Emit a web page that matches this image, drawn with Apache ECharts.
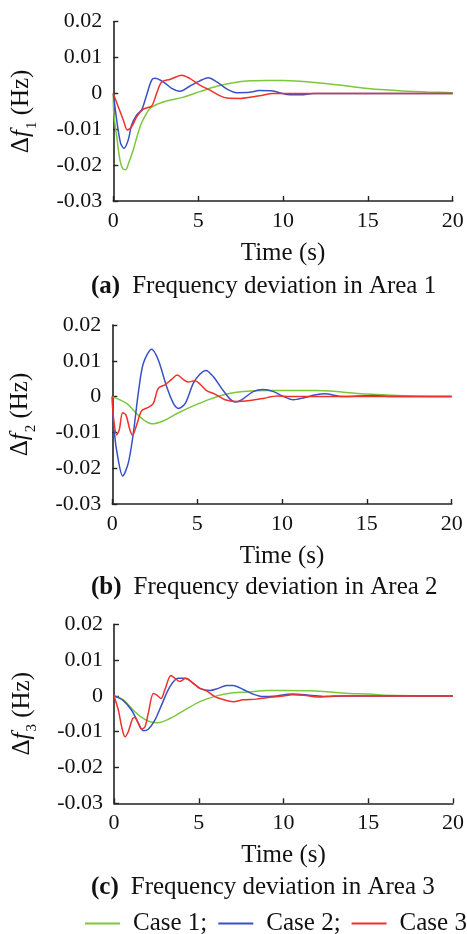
<!DOCTYPE html>
<html>
<head>
<meta charset="utf-8">
<script src="https://cdn.jsdelivr.net/npm/echarts@6/dist/echarts.min.js"></script>
<style>
html,body{margin:0;padding:0;background:#fff;}
#chart{width:467px;height:934px;}
</style>
</head>
<body>
<div id="chart"></div>
<script>
// ---- data: [time (s), deviation (Hz)] ----
var case1A = [[0,0],[0.03,-0.0055],[0.2,-0.012],[0.39,-0.0185],[0.55,-0.021],[0.72,-0.0213],[0.9,-0.0195],[1.18,-0.0157],[1.4,-0.012],[1.6,-0.009],[1.85,-0.0065],[2.16,-0.0042],[2.6,-0.003],[3.14,-0.0021],[4.1,-0.0011],[5.1,0.0005],[6.1,0.002],[7.07,0.003],[8.05,0.0035],[9,0.0036],[10,0.0036],[11,0.0034],[12,0.003],[13,0.0025],[13.9,0.002],[15,0.0014],[16,0.001],[17,0.0007],[18.5,0.0004],[20,0.0002]];
var case2A = [[0,0],[0.2,-0.0074],[0.43,-0.0139],[0.63,-0.0153],[0.88,-0.013],[1.08,-0.0088],[1.38,-0.006],[1.67,-0.0046],[1.96,-0.0005],[2.26,0.0037],[2.46,0.0042],[2.95,0.0032],[3.44,0.0014],[3.93,0.0006],[4.5,0.002],[5.1,0.0035],[5.6,0.0044],[6.1,0.0032],[6.7,0.0012],[7.27,0.0002],[8.05,0.0003],[8.6,0.0008],[9.4,0.0007],[9.8,0.0002],[10.4,-0.0004],[11.2,-0.0004],[11.8,0],[20,0]];
var case3A = [[0,0],[0.29,-0.0037],[0.59,-0.0074],[0.83,-0.0102],[1.08,-0.0093],[1.38,-0.0065],[1.77,-0.0044],[2.26,-0.0035],[2.55,0],[2.85,0.0032],[3.34,0.0039],[4.03,0.0051],[4.5,0.0042],[5.1,0.0023],[5.7,0.0009],[6.3,-0.0007],[6.7,-0.0013],[7.5,-0.0014],[8.05,-0.0011],[8.8,-0.0005],[9.4,0],[20,0]];

var case1B = [[0,0],[0.84,-0.0019],[1.43,-0.0047],[1.93,-0.0068],[2.32,-0.0076],[3.0,-0.0068],[3.79,-0.0048],[4.77,-0.0026],[5.76,-0.0007],[6.74,0.0007],[7.72,0.0014],[9.1,0.0017],[12,0.0017],[13.5,0.0013],[15,0.0007],[17.5,0.0002],[20,0]];
var case2B = [[0,0],[0.1,-0.0093],[0.35,-0.0177],[0.61,-0.0222],[0.94,-0.0186],[1.24,-0.0102],[1.53,0.0009],[1.83,0.0093],[2.32,0.0132],[2.71,0.0102],[3.2,0.0028],[3.6,-0.0019],[3.9,-0.0033],[4.3,-0.0019],[4.77,0.0037],[5.17,0.0063],[5.52,0.0073],[5.95,0.0056],[6.44,0.0023],[6.94,-0.0007],[7.23,-0.0015],[7.62,-0.0009],[8.3,0.0014],[8.9,0.002],[9.5,0.0014],[10.1,0],[10.67,-0.0009],[11.3,-0.0003],[12,0.0005],[12.5,0.0008],[13.6,0],[15.4,0.0003],[16.5,0],[20,0]];
var case3B = [[0,0],[0.05,-0.005],[0.26,-0.0107],[0.41,-0.0093],[0.61,-0.0045],[0.8,-0.0051],[1.04,-0.0093],[1.2,-0.0107],[1.43,-0.008],[1.73,-0.0039],[2.12,-0.003],[2.42,-0.0019],[2.71,0.0023],[3.1,0.0033],[3.5,0.0048],[3.83,0.006],[4.18,0.0048],[4.48,0.0041],[4.87,0.0044],[5.17,0.0035],[5.56,0.0017],[6.05,0.0007],[6.64,-0.0009],[7.33,-0.0014],[8.1,-0.0011],[8.9,-0.0005],[9.7,0.0002],[10.5,0],[20,0]];

var case1C = [[0,0],[0.55,-0.0011],[1.14,-0.004],[1.63,-0.006],[2.12,-0.0072],[2.61,-0.0075],[3.3,-0.0063],[4.09,-0.0042],[5.07,-0.0016],[6.05,0],[7.03,0.0009],[8.0,0.0011],[9.0,0.0015],[10,0.0015],[11.9,0.0014],[12.9,0.001],[13.9,0.0007],[15.1,0.0005],[15.9,0.0002],[20,0]];
var case2C = [[0,0],[0.55,-0.0013],[1.04,-0.004],[1.43,-0.0075],[1.73,-0.0097],[2.02,-0.0093],[2.42,-0.0067],[2.81,-0.0025],[3.3,0.0026],[3.79,0.0049],[4.18,0.0049],[4.68,0.0035],[5.07,0.0021],[5.66,0.0015],[6.15,0.0021],[6.64,0.0029],[7.03,0.0029],[7.62,0.0018],[8.2,0.0005],[8.8,-0.0002],[9.6,0],[10.5,0.0005],[11.5,0.0002],[12.5,-0.0002],[13.5,0],[20,0]];
var case3C = [[0,0],[0.26,-0.004],[0.45,-0.0086],[0.65,-0.0114],[0.84,-0.01],[1.1,-0.0063],[1.24,-0.006],[1.43,-0.0077],[1.63,-0.0093],[1.83,-0.0086],[2.02,-0.0049],[2.32,0.0007],[2.51,0.0003],[2.77,-0.0007],[3.0,0.0017],[3.36,0.0057],[3.6,0.0049],[3.89,0.004],[4.24,0.0049],[4.68,0.0035],[5.07,0.0021],[5.46,0.0014],[5.95,-0.0002],[6.44,-0.001],[7.03,-0.0016],[7.62,-0.0011],[8.4,-0.0009],[9.0,-0.0005],[10,0],[10.5,0.0003],[11.2,0.0002],[12,-0.0003],[13,0],[20,0]];

var seriesNames = ['Case 1', 'Case 2', 'Case 3'];
var panelCaptions = ['(a)', '(b)', '(c)'];
var captionTexts = ['Frequency deviation in Area 1', 'Frequency deviation in Area 2', 'Frequency deviation in Area 3'];
var subscripts = ['1', '2', '3'];
var xTitle = 'Time (s)';
var panels = [[case1A, case2A, case3A], [case1B, case2B, case3B], [case1C, case2C, case3C]];

// ---- styles ----
var FONT = 'Liberation Serif';
var colors = ['#7cc83a', '#3a50c6', '#f0302a'];
var grids = [
  {left: 113.3, top: 21.7, width: 339.4, height: 179.3},
  {left: 112.3, top: 325, width: 339.4, height: 179},
  {left: 114, top: 624.3, width: 339.3, height: 179}
];
var captionY = [288, 589, 889];

var axisLine = {show: true, onZero: false, lineStyle: {color: '#222', width: 1.6}};
var xAxes = [], yAxes = [], series = [], graphics = [];
grids.forEach(function (g, i) {
  xAxes.push({
    gridIndex: i, type: 'value', min: 0, max: 20, interval: 5,
    axisLine: axisLine,
    axisTick: {show: true, inside: true, length: 5, lineStyle: {color: '#222', width: 1.4}},
    splitLine: {show: false},
    axisLabel: {color: '#111', fontFamily: FONT, fontSize: 22, margin: 9},
    name: xTitle, nameLocation: 'middle', nameGap: 40,
    nameTextStyle: {color: '#111', fontFamily: FONT, fontSize: 25}
  });
  yAxes.push({
    gridIndex: i, type: 'value', min: -0.03, max: 0.02, interval: 0.01,
    axisLine: axisLine,
    axisTick: {show: true, inside: true, length: 5, lineStyle: {color: '#222', width: 1.4}},
    splitLine: {show: false},
    axisLabel: {color: '#111', fontFamily: FONT, fontSize: 22, margin: 11,
      formatter: function (v) { return String(+v.toFixed(3)); }},
    name: '{d|Δ}{f|f}{s|' + subscripts[i] + '}{h| (Hz)}',
    nameLocation: 'middle', nameRotate: 90, nameGap: 74,
    nameTextStyle: {
      color: '#111', fontFamily: FONT, fontSize: 25,
      rich: {
        d: {fontFamily: FONT, fontSize: 25, color: '#111', padding: [0, 0, 5, 0]},
        f: {fontFamily: FONT, fontSize: 25, fontStyle: 'italic', color: '#111', padding: [0, 1, 5, 0]},
        s: {fontFamily: FONT, fontSize: 15, color: '#111', verticalAlign: 'bottom'},
        h: {fontFamily: FONT, fontSize: 25, color: '#111', padding: [0, 0, 5, 0]}
      }
    }
  });
  panels[i].forEach(function (d, k) {
    series.push({
      name: seriesNames[k], type: 'line', xAxisIndex: i, yAxisIndex: i,
      data: d, showSymbol: false, symbol: 'none', smooth: 0.3,
      lineStyle: {color: colors[k], width: 1.5}, itemStyle: {color: colors[k]},
      z: 2 + k
    });
  });
  graphics.push({
    type: 'text', left: 91, top: captionY[i] - 14,
    style: {
      text: '{b|' + panelCaptions[i] + '}{n|' + captionTexts[i] + '}',
      fill: '#111',
      rich: {
        b: {fontFamily: FONT, fontSize: 25, fontWeight: 'bold', fill: '#111', padding: [0, 12, 0, 0]},
        n: {fontFamily: FONT, fontSize: 25, fill: '#111'}
      }
    }
  });
});

var chart = echarts.init(document.getElementById('chart'), null, {renderer: 'canvas'});
chart.setOption({
  backgroundColor: '#fff',
  animation: false,
  grid: grids,
  xAxis: xAxes,
  yAxis: yAxes,
  series: series,
  legend: {
    data: seriesNames, left: 85, top: 911, width: 420, padding: 0,
    icon: 'rect', itemWidth: 35, itemHeight: 2, itemGap: 11,
    formatter: function (n) { return n === 'Case 3' ? n : n + ';'; },
    textStyle: {color: '#111', fontFamily: FONT, fontSize: 25, padding: [0, 0, 0, 8]}
  },
  graphic: graphics
});
</script>
</body>
</html>
